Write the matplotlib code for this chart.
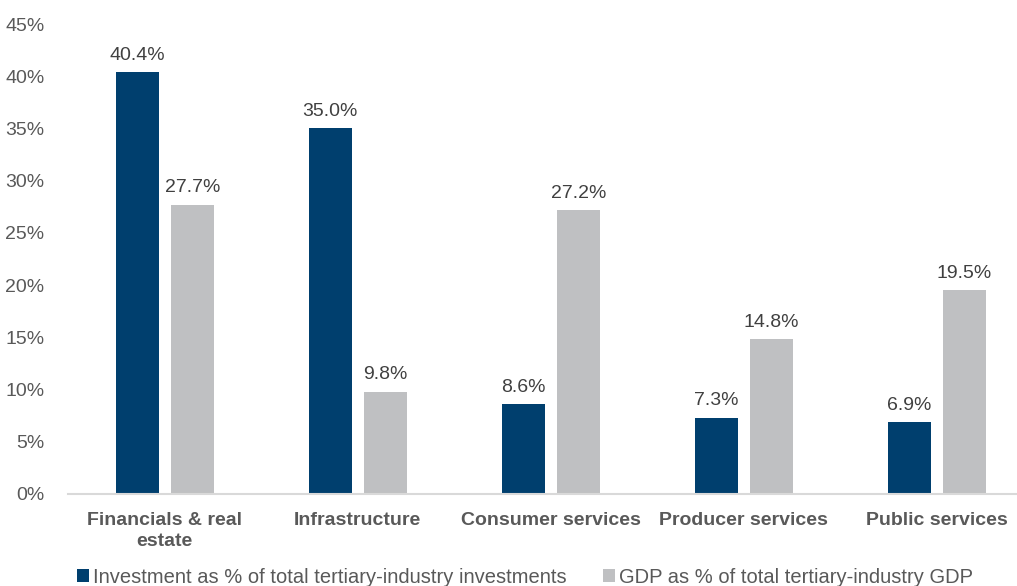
import numpy as np
import matplotlib.pyplot as plt
from matplotlib.ticker import FuncFormatter

plt.rcParams['font.family'] = ['Liberation Sans', 'DejaVu Sans']

# Share of tertiary-industry investment vs share of tertiary-industry GDP
categories = ['Financials & real\nestate', 'Infrastructure', 'Consumer services',
              'Producer services', 'Public services']
investment = [40.4, 35.0, 8.6, 7.3, 6.9]
gdp = [27.7, 9.8, 27.2, 14.8, 19.5]

dark_blue = '#003F6E'
light_gray = '#BFC0C2'
text_col = '#595959'

fig = plt.figure(figsize=(10.17, 5.86), dpi=100)
ax = fig.add_axes([0.067, 0.157, 0.949, 0.802])

x = np.arange(len(categories))
w = 0.223
off = 0.143
b1 = ax.bar(x - off, investment, w, color=dark_blue,
            label='Investment as % of total tertiary-industry investments')
b2 = ax.bar(x + off, gdp, w, color=light_gray,
            label='GDP as % of total tertiary-industry GDP')

for bars, vals in ((b1, investment), (b2, gdp)):
    for bar, v in zip(bars, vals):
        ax.text(bar.get_x() + bar.get_width() / 2, v + 0.8, f'{v:.1f}%',
                ha='center', va='bottom', fontsize=14, color='#404040')

ax.set_xlim(-0.5, len(categories) - 0.5)
ax.set_ylim(0, 45)
ax.set_yticks(np.arange(0, 46, 5))
ax.yaxis.set_major_formatter(FuncFormatter(lambda v, _: f'{v:.0f}%'))
ax.set_xticks(x)
ax.set_xticklabels(categories, fontsize=14, fontweight='bold', color=text_col,
                   linespacing=1.3)
ax.tick_params(axis='y', labelsize=14, labelcolor=text_col, length=0, pad=17)
ax.tick_params(axis='x', length=0, pad=13)

for s in ['top', 'right', 'left']:
    ax.spines[s].set_visible(False)
ax.spines['bottom'].set_color('#D9D9D9')
ax.spines['bottom'].set_linewidth(1.5)

leg = fig.legend(loc='lower center', bbox_to_anchor=(0.516, -0.032), ncol=2,
                 frameon=False, fontsize=14.5, handlelength=0.6, handleheight=0.6,
                 handletextpad=0.2, columnspacing=1.8)
for t in leg.get_texts():
    t.set_color(text_col)

fig.savefig('out.png', dpi=100)
